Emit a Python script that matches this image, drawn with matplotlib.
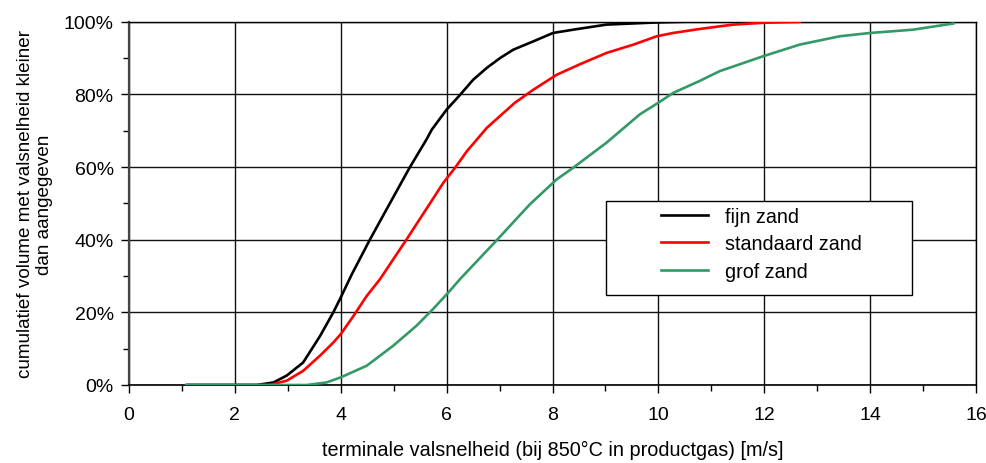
import matplotlib
matplotlib.use("Agg")
import matplotlib.pyplot as plt
from matplotlib.ticker import MultipleLocator, FuncFormatter
from matplotlib.patches import Rectangle

plt.rcParams['font.family'] = ['Liberation Sans', 'DejaVu Sans']

# fijn zand
x_fijn = [1.1, 2.0, 2.41, 2.73, 2.98, 3.29, 3.61, 3.86, 4.0, 4.21, 4.55, 4.75, 5.0, 5.30, 5.62, 5.72,
          6.0, 6.25, 6.5, 6.76, 7.01, 7.26, 7.64, 8.01, 8.39, 9.02, 9.97, 10.5]
y_fijn = [0, 0, 0, 0.7, 2.6, 6.2, 13.5, 20.0, 24.1, 30.5, 40.0, 45.3, 51.9, 59.8, 67.6, 70.3,
          75.8, 79.8, 84.0, 87.3, 90.0, 92.3, 94.6, 96.9, 97.8, 99.2, 99.8, 100]

# standaard zand
x_std = [1.1, 2.0, 2.66, 2.98, 3.29, 3.61, 3.86, 4.0, 4.24, 4.49, 4.74, 5.24, 5.94, 6.16,
         6.38, 6.76, 7.29, 7.64, 8.08, 8.52, 9.02, 9.53, 9.97, 10.28, 10.78, 11.41, 11.98, 12.67]
y_std = [0, 0, 0, 1.2, 3.9, 8.1, 11.7, 14.0, 19.0, 24.5, 29.1, 40.0, 55.7, 59.8,
         64.3, 70.8, 77.7, 81.3, 85.4, 88.3, 91.4, 93.7, 96.0, 96.9, 98.0, 99.2, 99.7, 100]

# grof zand
x_grof = [1.08, 2.0, 3.0, 3.36, 3.73, 4.0, 4.49, 4.99, 5.43, 5.75, 6.06, 6.25, 6.95, 7.57, 8.08,
          8.39, 9.02, 9.65, 10.0, 10.28, 10.78, 11.16, 11.98, 12.67, 13.43, 14.0, 14.81, 15.57]
y_grof = [0, 0, 0, 0, 0.7, 2.1, 5.3, 10.8, 16.3, 21.0, 25.9, 29.1, 39.9, 49.7, 56.6,
          59.8, 66.7, 74.5, 77.7, 80.4, 83.7, 86.4, 90.5, 93.7, 96.0, 96.9, 97.8, 99.5]

series = [
    ("fijn zand", x_fijn, y_fijn, "#000000"),
    ("standaard zand", x_std, y_std, "#FF0000"),
    ("grof zand", x_grof, y_grof, "#339966"),
]

x_ticks = [0, 2, 4, 6, 8, 10, 12, 14, 16]
y_ticks = [0, 20, 40, 60, 80, 100]

W, H = 986, 464
L, R, T, B = 129, 976, 22.7, 386
fig = plt.figure(figsize=(W / 100, H / 100), dpi=100)
ax = fig.add_axes([L / W, (H - B) / H, (R - L) / W, (B - T) / H])

for name, xs, ys, c in series:
    ax.plot(xs, ys, color=c, lw=1.9, label=name, solid_joinstyle='round', zorder=3)

ax.set_xlim(0, 16)
ax.set_ylim(0, 100)
ax.set_xticks(x_ticks)
ax.set_yticks(y_ticks)
ax.xaxis.set_minor_locator(MultipleLocator(1))
ax.yaxis.set_minor_locator(MultipleLocator(10))
ax.yaxis.set_major_formatter(FuncFormatter(lambda v, p: f"{int(v)}%"))
ax.grid(True, which='major', color='#111111', lw=1.0)
ax.set_axisbelow(True)

ax.tick_params(axis='both', which='major', direction='out', length=6, width=1,
               labelsize=14, colors='#000000', pad=5)
ax.tick_params(axis='both', which='minor', direction='out', length=4, width=1)
ax.tick_params(axis='x', which='major', pad=9)

for s in ax.spines.values():
    s.set_color('#000000')
    s.set_linewidth(1.0)
ax.spines['left'].set_color('#444444')
ax.spines['left'].set_linewidth(1.6)
ax.spines['bottom'].set_linewidth(1.2)

ax.set_xlabel("terminale valsnelheid (bij 850°C in productgas) [m/s]", fontsize=14.3, labelpad=12)
ax.set_ylabel("cumulatief volume met valsnelheid kleiner\ndan aangegeven", fontsize=13.6,
              labelpad=8, linespacing=1.15)

# legend box
def to_ax(px, py):
    return (px - L) / (R - L), (B - py) / (B - T)

bx0, by0 = to_ax(606, 296)
bx1, by1 = to_ax(912, 202)
ax.add_patch(Rectangle((bx0, by0), bx1 - bx0, by1 - by0, transform=ax.transAxes,
                       facecolor='white', edgecolor='#000000', lw=1.0, zorder=4))
lx, ly = to_ax(655, 202)
leg = ax.legend(loc='upper left', bbox_to_anchor=(lx, ly), frameon=False, fontsize=14.2,
                handlelength=2.4, handletextpad=0.85, borderpad=0.3, labelspacing=0.43,
                borderaxespad=0)
leg.set_zorder(5)

fig.savefig("out.png", dpi=100)
